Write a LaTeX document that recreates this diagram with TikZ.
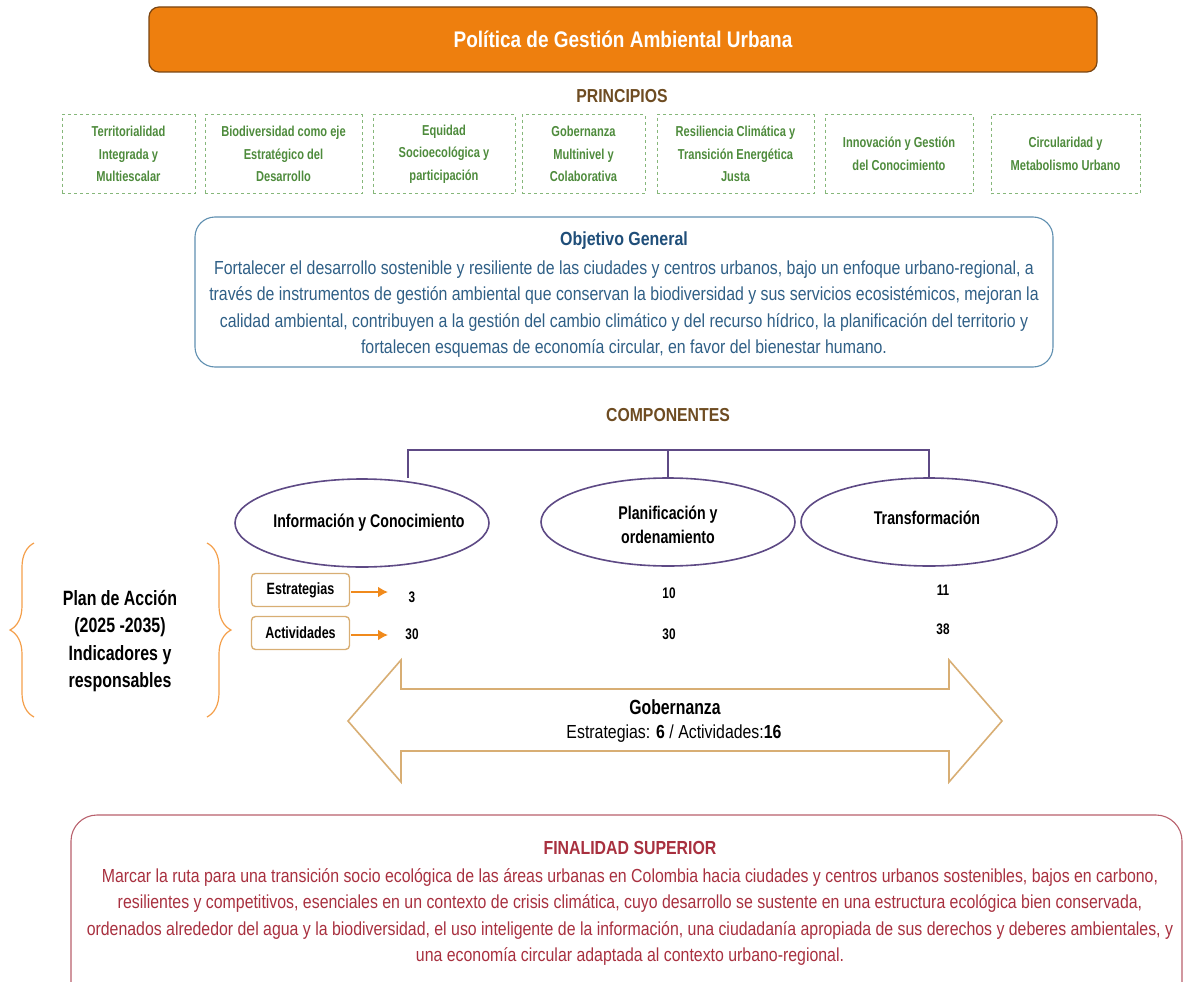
\documentclass[tikz,border=0pt]{standalone}
\usepackage{fontspec}
\setmainfont{Liberation Sans}[FakeStretch=0.84]
\newfontfamily\narrowsans{Liberation Sans}[FakeStretch=0.77]
\usetikzlibrary{shapes.geometric,decorations.pathreplacing,arrows.meta}

\definecolor{titleorange}{HTML}{EE7F0E}
\definecolor{titleedge}{HTML}{7A4512}
\definecolor{headbrown}{HTML}{6E4C22}
\definecolor{princgreen}{HTML}{4E8B3C}
\definecolor{princedge}{HTML}{86B77A}
\definecolor{objedge}{HTML}{5F8FB0}
\definecolor{objtitle}{HTML}{1F4E79}
\definecolor{objtext}{HTML}{2F5F86}
\definecolor{compurple}{HTML}{5E4A85}
\definecolor{tan}{HTML}{D8AE74}
\definecolor{arroworange}{HTML}{F08A1C}
\definecolor{braceorange}{HTML}{F4A04C}
\definecolor{finedge}{HTML}{B8606C}
\definecolor{fintext}{HTML}{A8303F}

\newcommand{\fsz}[2]{\fontsize{#1}{#2}\selectfont}

\begin{document}
\begin{tikzpicture}[x=1pt,y=-1pt,
  titlebox/.style={draw=titleedge, line width=1.2pt, fill=titleorange, rounded corners=10pt,
    minimum width=948pt, minimum height=65pt, text=white, font=\bfseries\fsz{22.6}{26}},
  heading/.style={text=headbrown, font=\bfseries\fsz{18.8}{22}},
  princbox/.style={draw=princedge, dashed, line width=0.9pt, minimum height=79pt,
    align=center, text=princgreen, font=\narrowsans\bfseries\fsz{14.4}{22.5}},
  roundbox/.style={rounded corners=20pt, line width=1.1pt},
  comp/.style={ellipse, draw=compurple, line width=1.6pt, inner sep=0pt,
    minimum width=254pt, minimum height=88pt},
  complabel/.style={align=center, font=\narrowsans\bfseries\fsz{18.4}{24}},
  tag/.style={draw=tan, line width=1.4pt, rounded corners=4pt, minimum width=98pt,
    minimum height=33pt, font=\narrowsans\bfseries\fsz{16.3}{18}},
  num/.style={font=\narrowsans\bfseries\fsz{15.3}{16}},
  tagarrow/.style={draw=arroworange, line width=2.6pt, -{Latex[length=10pt,width=11pt]}},
  linkline/.style={draw=compurple, line width=1.6pt},
  curly/.style={draw=braceorange, line width=1.2pt,
    decorate, decoration={brace, amplitude=24pt}},
]
\useasboundingbox (0,0) rectangle (1184,982);
\clip (0,0) rectangle (1184,982);

% title banner
\node[titlebox] (title) at (623,39.5) {Política de Gestión Ambiental Urbana};

% principles
\node[heading] (principios) at (622,96) {PRINCIPIOS};
\begin{scope}[yshift=-2pt]
\node[princbox, minimum width=133pt] (p1) at (128.5,152) {Territorialidad\\Integrada y\\Multiescalar};
\node[princbox, minimum width=157pt] (p2) at (283.5,152) {Biodiversidad como eje\\Estratégico del\\Desarrollo};
\node[princbox, minimum width=142pt] (p3) at (444,152) {Equidad\\Socioecológica y\\participación};
\node[princbox, minimum width=123pt] (p4) at (583.5,152) {Gobernanza\\Multinivel y\\Colaborativa};
\node[princbox, minimum width=157pt] (p5) at (735.5,152) {Resiliencia Climática y\\Transición Energética\\Justa};
\node[princbox, minimum width=148pt] (p6) at (899,152) {Innovación y Gestión\\del Conocimiento};
\node[princbox, minimum width=149pt] (p7) at (1065.5,152) {Circularidad y\\Metabolismo Urbano};
\end{scope}

% general objective
\draw[roundbox, draw=objedge] (195,217) rectangle (1053,367);
\node[text=objtitle, font=\bfseries\fsz{19}{22}] (objtit) at (624,241) {Objetivo General};
\node[text=objtext, align=center, font=\fsz{18.9}{26.5}] (objtxt) at (624,309)
  {Fortalecer el desarrollo sostenible y resiliente de las ciudades y centros urbanos, bajo un enfoque urbano-regional, a\\
   través de instrumentos de gestión ambiental que conservan la biodiversidad y sus servicios ecosistémicos, mejoran la\\
   calidad ambiental, contribuyen a la gestión del cambio climático y del recurso hídrico, la planificación del territorio y\\
   fortalecen esquemas de economía circular, en favor del bienestar humano.};

% components
\node[heading] (componentes) at (668,415) {COMPONENTES};
\node[comp] (c1) at (362,523) {};
\node[comp] (c2) at (668,522) {};
\node[comp, minimum width=256pt] (c3) at (929,522) {};
\node[complabel] (c1t) at (369,523) {Información y Conocimiento};
\node[complabel] (c2t) at (668,525) {Planificación y\\ordenamiento};
\node[complabel] (c3t) at (927,518) {Transformación};
\coordinate (bar) at (668,450);
\draw[linkline] (c2.north) -- (bar);
\draw[linkline] (c1.north -| 408,0) -- (408,450) -- (929,450) -- (c3.north);

% action plan
\node[align=center, font=\narrowsans\bfseries\fsz{20.7}{27.5}] (plan) at (120,641)
  {Plan de Acción\\(2025 -2035)\\Indicadores y\\responsables};
\coordinate (lbA) at (34,717);
\coordinate (lbB) at (34,543);
\coordinate (rbA) at (207,543);
\coordinate (rbB) at (207,717);
\draw[curly] (lbA) -- (lbB);
\draw[curly] (rbA) -- (rbB);

\node[tag] (estr) at (300.5,590) {Estrategias};
\node[tag] (acti) at (300.5,633) {Actividades};
\node[num] (n1a) at (412,597) {3};
\node[num] (n1b) at (412,634) {30};
\node[num] (n2a) at (669,593) {10};
\node[num] (n2b) at (669,634) {30};
\node[num] (n3a) at (943,590) {11};
\node[num] (n3b) at (943,629) {38};
\draw[tagarrow] (estr.east) ++(1,2) -- (388,592);
\draw[tagarrow] (acti.east) ++(1,2) -- (388,635);

% governance double arrow
\draw[draw=tan, line width=1.6pt, line join=miter]
  (348,721) -- (401,660) -- (401,689) -- (949,689) -- (949,660) -- (1002,721)
  -- (949,782) -- (949,751) -- (401,751) -- (401,782) -- cycle;
\node[font=\narrowsans\bfseries\fsz{20.5}{22}] (gob) at (675,707) {Gobernanza};
\node[font=\fsz{18.9}{22}] (gobtxt) at (674,734) {Estrategias: \textbf{6} / Actividades:\textbf{16}};

% overall purpose
\draw[draw=finedge, line width=1.1pt, rounded corners=26pt] (71,815) rectangle (1182,1010);
\node[text=fintext, font=\bfseries\fsz{18.9}{22}] (fintit) at (630,848) {FINALIDAD SUPERIOR};
\node[text=fintext, align=center, font=\fsz{18.9}{26.6}] (fintxt) at (630,917)
  {Marcar la ruta para una transición socio ecológica de las áreas urbanas en Colombia hacia ciudades y centros urbanos sostenibles, bajos en carbono,\\
   resilientes y competitivos, esenciales en un contexto de crisis climática, cuyo desarrollo se sustente en una estructura ecológica bien conservada,\\
   ordenados alrededor del agua y la biodiversidad, el uso inteligente de la información, una ciudadanía apropiada de sus derechos y deberes ambientales, y\\
   una economía circular adaptada al contexto urbano-regional.};
\end{tikzpicture}
\end{document}
